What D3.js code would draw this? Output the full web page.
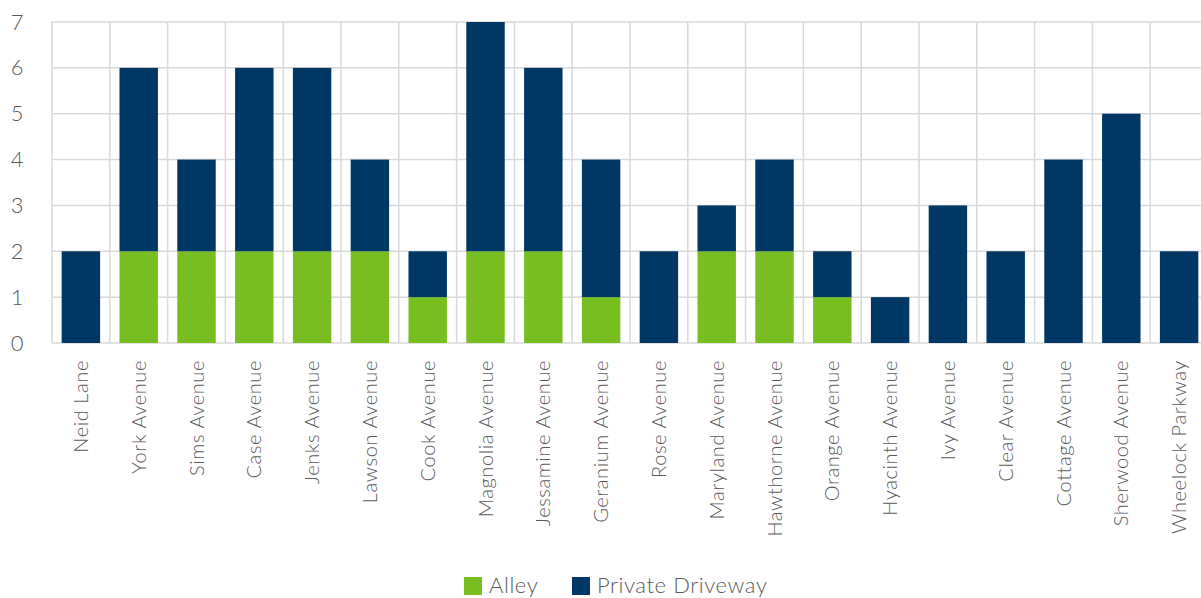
<!DOCTYPE html>
<html>
<head>
<meta charset="utf-8">
<script src="https://cdn.jsdelivr.net/npm/d3@7"></script>
<style>
  html, body { margin: 0; padding: 0; background: #fff; }
  svg { display: block; }
  text { font-family: Lato, "Open Sans", sans-serif; fill: #595959; }
</style>
</head>
<body>
<svg id="chart" width="1201" height="598"></svg>
<script>
// Street names along the x axis
const streets = ["Neid Lane", "York Avenue", "Sims Avenue", "Case Avenue", "Jenks Avenue",
  "Lawson Avenue", "Cook Avenue", "Magnolia Avenue", "Jessamine Avenue", "Geranium Avenue",
  "Rose Avenue", "Maryland Avenue", "Hawthorne Avenue", "Orange Avenue", "Hyacinth Avenue",
  "Ivy Avenue", "Clear Avenue", "Cottage Avenue", "Sherwood Avenue", "Wheelock Parkway"];

// Counts per access type
const alley           = [0, 2, 2, 2, 2, 2, 1, 2, 2, 1, 0, 2, 2, 1, 0, 0, 0, 0, 0, 0];
const privateDriveway = [2, 4, 2, 4, 4, 2, 1, 5, 4, 3, 2, 1, 2, 1, 1, 3, 2, 4, 5, 2];

const seriesNames = ["Alley", "Private Driveway"];
const yTicks = [0, 1, 2, 3, 4, 5, 6, 7];

const colors = { "Alley": "#78be21", "Private Driveway": "#003764" };

const svg = d3.select("#chart");
const margin = { left: 52, top: 22, right: -7, bottom: 255 };
const width = 1201 - margin.left - margin.right;
const height = 598 - margin.top - margin.bottom;

const g = svg.append("g").attr("transform", `translate(${margin.left},${margin.top})`);

const x = d3.scaleBand().domain(streets).range([0, width]).paddingInner(0.335).paddingOuter(0.1675);
const y = d3.scaleLinear().domain([0, 7]).range([height, 0]);

// Horizontal gridlines
g.append("g").selectAll("line").data(yTicks).join("line")
  .attr("x1", 0).attr("x2", width)
  .attr("y1", d => y(d)).attr("y2", d => y(d))
  .attr("stroke", "#d9d9d9").attr("stroke-width", 1.5);

// Vertical separators between categories
const step = x.step();
const bounds = d3.range(streets.length + 1).map(i => i * step);
g.append("g").selectAll("line").data(bounds).join("line")
  .attr("x1", d => d).attr("x2", d => d)
  .attr("y1", 0).attr("y2", height)
  .attr("stroke", "#d9d9d9").attr("stroke-width", 1.5);

// Stacked bars
const rows = streets.map((s, i) => ({ street: s, "Alley": alley[i], "Private Driveway": privateDriveway[i] }));
const stacked = d3.stack().keys(seriesNames)(rows);

g.append("g").selectAll("g").data(stacked).join("g")
  .attr("fill", d => colors[d.key])
  .selectAll("rect").data(d => d).join("rect")
  .attr("x", d => x(d.data.street))
  .attr("width", x.bandwidth())
  .attr("y", d => y(d[1]))
  .attr("height", d => y(d[0]) - y(d[1]));

// Y axis labels
const yAxis = g.append("g").call(d3.axisLeft(y).tickValues(yTicks).tickFormat(d3.format("d")).tickSize(0));
yAxis.select(".domain").remove();
yAxis.selectAll("text")
  .attr("x", -35).attr("text-anchor", "middle")
  .style("font-size", "22px").style("font-weight", 300).attr("fill", "#595959")
  .style("font-family", "Lato, 'Open Sans', sans-serif");

// X axis labels, rotated
const xAxis = g.append("g").attr("transform", `translate(0,${height})`)
  .call(d3.axisBottom(x).tickSize(0).tickPadding(0));
xAxis.select(".domain").remove();
xAxis.selectAll("text")
  .style("font-size", "20px").style("font-weight", 300).style("letter-spacing", "0.6px")
  .attr("fill", "#595959")
  .style("font-family", "Lato, 'Open Sans', sans-serif")
  .attr("text-anchor", "end")
  .attr("dy", "0.35em")
  .attr("transform", "translate(0,17) rotate(-90)")
  .attr("x", 0).attr("y", 0);

// Legend
const legend = svg.append("g").attr("transform", "translate(464,577)");
const items = legend.selectAll("g").data(seriesNames).join("g")
  .attr("transform", (d, i) => `translate(${i === 0 ? 0 : 108},0)`);
items.append("rect").attr("width", 18).attr("height", 18).attr("fill", d => colors[d]);
items.append("text").attr("x", 25).attr("y", 16)
  .style("font-size", "22px").style("font-weight", 300).style("letter-spacing", "0.6px")
  .text(d => d);
</script>
</body>
</html>
